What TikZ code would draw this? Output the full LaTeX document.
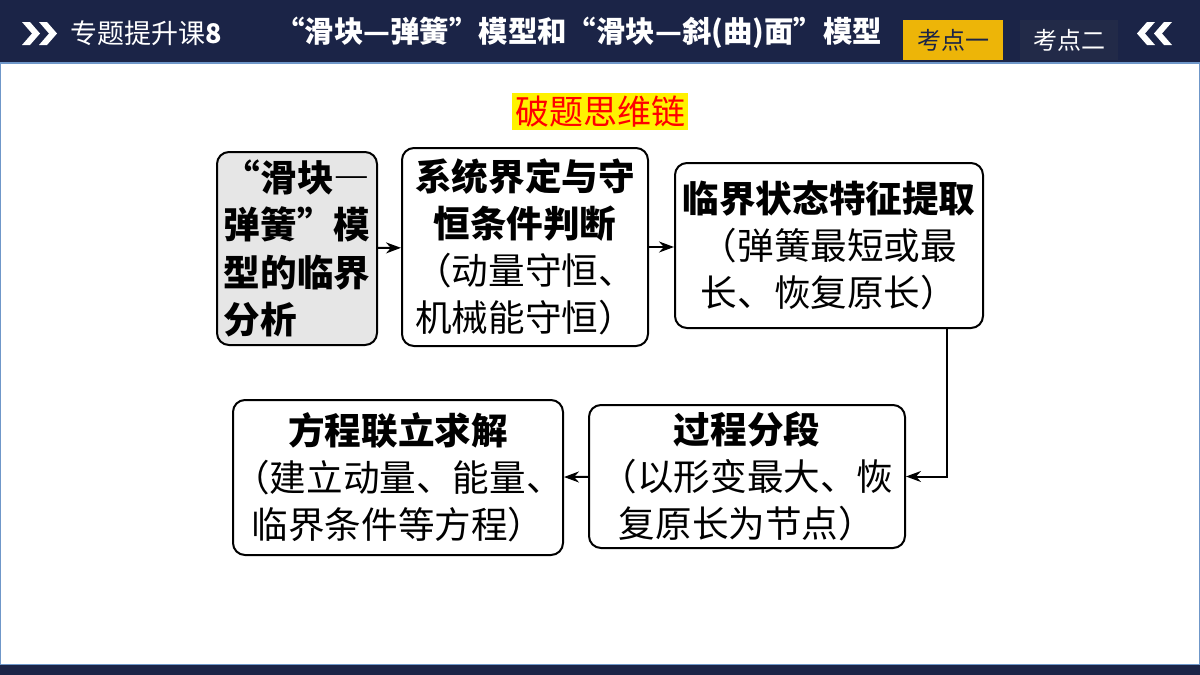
\documentclass[tikz,border=0pt]{standalone}
\usepackage{fontspec}
\usetikzlibrary{arrows.meta}
\newfontfamily\cjk{Noto Sans CJK SC}
\newfontfamily\cjkfw[CharacterWidth=Full]{Noto Sans CJK SC}
\definecolor{navy}{HTML}{1B2447}
\definecolor{tabdark}{HTML}{222A48}
\definecolor{edge}{HTML}{6F97C9}
\definecolor{gold}{HTML}{EDB508}
\definecolor{boxgray}{HTML}{E6E6E6}
\newcommand{\boxfont}{\cjkfw\fontsize{18.3pt}{23.6pt}\selectfont}

\begin{document}
\begin{tikzpicture}[x=0.5pt,y=-0.5pt, inner sep=0pt,
  stage/.style={draw=black, line width=1pt, rounded corners=6pt, fill=white,
    align=center, font=\boxfont},
  flow/.style={-{Stealth[length=7.5pt,width=5.5pt]}, line width=1pt}]
\useasboundingbox (0,0) rectangle (1200,675);
% header and frame
\fill[navy] (0,0) rectangle (1200,62);
\fill[navy] (0,665) rectangle (1200,675);
\draw[edge, line width=1pt] (0,62.5) -- (1200,62.5);
\draw[edge, line width=0.8pt] (0,664.5) -- (1200,664.5);
\draw[edge, line width=0.6pt] (0.5,62) -- (0.5,665);
\draw[edge, line width=0.6pt] (1199.5,62) -- (1199.5,665);
\fill[white] (22,22) -- (30,22) -- (40,33.5) -- (30,45) -- (22,45) -- (32,33.5) -- cycle;
\fill[white] (39,22) -- (47,22) -- (57,33.5) -- (47,45) -- (39,45) -- (49,33.5) -- cycle;
\fill[white] (1172,22) -- (1164,22) -- (1154,33.5) -- (1164,45) -- (1172,45) -- (1162,33.5) -- cycle;
\fill[white] (1155,22) -- (1147,22) -- (1137,33.5) -- (1147,45) -- (1155,45) -- (1145,33.5) -- cycle;
\node (course) at (70,33) [anchor=west, text=white, font=\cjk\fontsize{13.5pt}{16pt}\selectfont] {专题提升课\textbf{8}};
\node (topic) at (275,33) [anchor=west, text=white, font=\cjk\bfseries\fontsize{14.7pt}{17pt}\selectfont] {“滑块—弹簧”模型和“滑块—斜(曲)面”模型};
\node (tabone) at (953,40) [fill=gold, minimum width=50pt, minimum height=20pt, text=navy, font=\cjk\fontsize{12pt}{14pt}\selectfont] {考点一};
\node (tabtwo) at (1069,40) [fill=tabdark, minimum width=49pt, minimum height=20pt, text=white, font=\cjk\fontsize{12pt}{14pt}\selectfont] {考点二};
% title
\node (title) at (600,111.5) [fill=yellow, minimum width=88pt, minimum height=18.5pt, text=red, font=\cjk\fontsize{17pt}{20pt}\selectfont] {破题思维链};
% chain of steps
\node (model) at (297,248.5) [stage, fill=boxgray, minimum width=80pt, minimum height=96.5pt, align=left, font=\boxfont\bfseries] {“滑块—\\弹簧”模\\型的临界\\分析};
\node (system) at (525,247) [stage, minimum width=123pt, minimum height=99pt] {\textbf{系统界定与守}\\\textbf{恒条件判断}\\（动量守恒、\\机械能守恒）};
\node (critical) at (829,245.5) [stage, minimum width=154pt, minimum height=82.5pt] {\textbf{临界状态特征提取}\\（弹簧最短或最\\长、恢复原长）};
\node (stages) at (747,476.5) [stage, minimum width=158pt, minimum height=71.5pt] {\textbf{过程分段}\\（以形变最大、恢\\复原长为节点）};
\node (solve) at (398,477.5) [stage, minimum width=165pt, minimum height=77.5pt] {\textbf{方程联立求解}\\（建立动量、能量、\\临界条件等方程）};
\draw[flow] (model) -- (system);
\draw[flow] (system.east) -- (system.east -| critical.west);
\draw[flow] ([xshift=59pt]critical.south) |- (stages.east);
\draw[flow] (stages) -- (solve);
\end{tikzpicture}
\end{document}
